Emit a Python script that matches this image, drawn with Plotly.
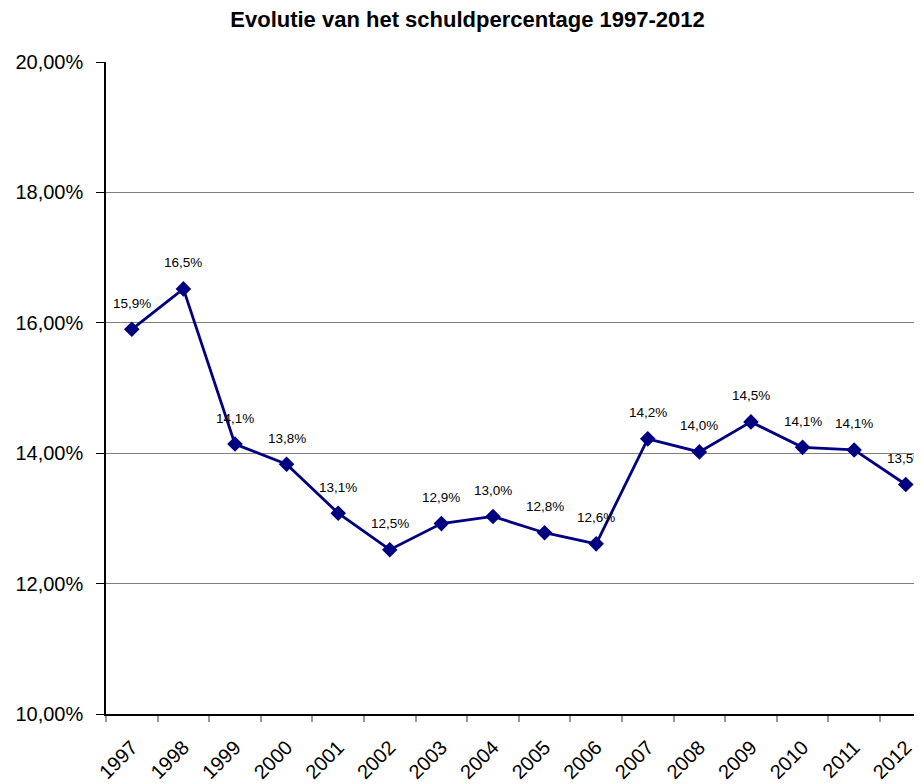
import plotly.graph_objects as go

years = ["1997", "1998", "1999", "2000", "2001", "2002", "2003", "2004",
         "2005", "2006", "2007", "2008", "2009", "2010", "2011", "2012"]
values = [15.90, 16.52, 14.14, 13.83, 13.08, 12.52, 12.92, 13.03,
          12.78, 12.61, 14.22, 14.02, 14.48, 14.09, 14.05, 13.52]
value_labels = ["15,9%", "16,5%", "14,1%", "13,8%", "13,1%", "12,5%", "12,9%", "13,0%",
                "12,8%", "12,6%", "14,2%", "14,0%", "14,5%", "14,1%", "14,1%", "13,5%"]
y_ticks = [10, 12, 14, 16, 18, 20]
y_ticktext = [f"{v:.2f}".replace(".", ",") + "%" for v in y_ticks]

FONT = "Liberation Sans, Arial, sans-serif"

fig = go.Figure()
fig.add_trace(go.Scatter(
    x=years, y=values, mode="lines+markers",
    line=dict(color="#000080", width=2.8),
    marker=dict(symbol="diamond", size=12, color="#000080"),
    showlegend=False, hoverinfo="skip",
))

for i, (v, lab) in enumerate(zip(values, value_labels)):
    fig.add_annotation(x=i, y=v, xref="x", yref="y", text=lab, showarrow=False,
                       yshift=26, font=dict(family=FONT, size=13.5, color="#000000"))

fig.update_layout(
    width=922, height=776,
    margin=dict(l=98, r=0, t=54, b=70, autoexpand=False),
    paper_bgcolor="white", plot_bgcolor="white",
    font=dict(family=FONT, color="#000000"),
    title=dict(text="<b>Evolutie van het schuldpercentage 1997-2012</b>",
               x=459.5 / 922, xanchor="center", y=1 - 11 / 776, yanchor="middle",
               font=dict(family=FONT, size=22, color="#000000")),
    xaxis=dict(
        type="category", range=[-0.5, 15.47], automargin=False,
        showline=True, linecolor="#000000", linewidth=1.5,
        showgrid=False, ticks="outside", tickson="boundaries",
        ticklen=6, tickcolor="#999999", tickwidth=1.5,
        tickangle=-45, ticklabelstandoff=12,
        tickfont=dict(family=FONT, size=20, color="#000000"),
        zeroline=False,
    ),
    yaxis=dict(
        range=[10, 20], tickvals=y_ticks, ticktext=y_ticktext, automargin=False,
        showline=True, linecolor="#000000", linewidth=1.5,
        showgrid=True, gridcolor="#808080", gridwidth=1,
        ticks="outside", ticklen=8, tickcolor="#000000", tickwidth=1,
        ticklabelstandoff=9,
        tickfont=dict(family=FONT, size=20, color="#000000"),
        zeroline=False,
    ),
)

fig.write_html("out.html", post_script="document.body.style.overflow='hidden';")
